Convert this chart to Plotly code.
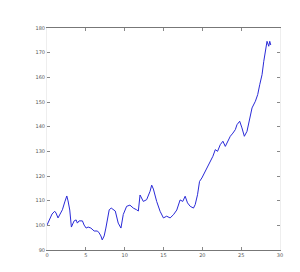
import plotly.graph_objects as go

t = [0.0, 0.26, 0.48, 0.65, 0.99, 1.16, 1.42, 1.68, 1.98, 2.29, 2.55, 2.71, 2.93, 3.14,
     3.49, 3.75, 3.91, 4.13, 4.56, 4.78, 5.04, 5.30, 5.65, 6.07, 6.50, 6.72, 6.94, 7.11,
     7.36, 7.58, 7.79, 8.01, 8.27, 8.53, 8.79, 9.17, 9.52, 9.82, 10.25, 10.68, 11.11,
     11.54, 11.76, 11.98, 12.40, 12.83, 13.27, 13.48, 13.70, 14.12, 14.56, 14.99, 15.41,
     15.85, 16.28, 16.71, 17.14, 17.48, 17.79, 18.09, 18.44, 18.86, 19.08, 19.38, 19.64,
     19.94, 20.37, 20.80, 21.10, 21.36, 21.67, 21.96, 22.31, 22.65, 22.96, 23.26, 23.60,
     23.94, 24.25, 24.46, 24.81, 25.10, 25.41, 25.75, 26.10, 26.40, 26.83, 27.13, 27.39,
     27.69, 27.91, 28.13, 28.33, 28.55, 28.68, 28.81]
price = [100.1, 102.2, 103.8, 104.6, 105.7, 105.0, 103.0, 104.4, 106.3, 109.5, 111.9, 109.9,
         106.2, 99.3, 101.8, 102.2, 100.9, 101.8, 101.8, 100.1, 98.9, 99.3, 98.9, 97.7, 97.7,
         96.9, 95.7, 94.1, 95.7, 98.9, 103.0, 106.3, 107.0, 106.2, 105.8, 100.9, 98.9, 104.4,
         107.7, 108.2, 107.0, 106.3, 105.8, 112.3, 109.7, 110.4, 113.8, 116.3, 114.7, 109.7,
         105.7, 103.0, 103.7, 103.0, 104.3, 106.2, 110.3, 109.7, 111.8, 109.1, 107.7, 107.0,
         108.4, 112.4, 117.8, 119.2, 121.9, 124.6, 126.0, 128.0, 130.7, 130.0, 132.7, 134.1,
         132.0, 134.1, 136.1, 137.4, 138.8, 140.8, 142.2, 139.5, 136.1, 138.1, 143.5, 147.6,
         150.3, 153.0, 157.0, 161.1, 166.5, 171.9, 174.6, 172.6, 174.6, 173.1]

x_ticks = [0, 5, 10, 15, 20, 25, 30]
y_ticks = [90, 100, 110, 120, 130, 140, 150, 160, 170, 180]

fig = go.Figure(go.Scatter(x=t, y=price, mode="lines",
                           line=dict(color="#2a2ad8", width=1)))

axis_font = dict(family="DejaVu Sans", size=5, color="#555555")
fig.update_layout(
    width=300, height=272,
    margin=dict(l=39, r=28, t=20, b=30),
    paper_bgcolor="white", plot_bgcolor="white",
    showlegend=False,
    xaxis=dict(range=[0, 30], tickvals=x_ticks, ticks="inside", ticklen=3,
               tickcolor="#888888", showgrid=False, zeroline=False,
               showline=True, linecolor="#777777", linewidth=1, mirror="ticks",
               tickfont=axis_font),
    yaxis=dict(range=[90, 180], tickvals=y_ticks, ticks="inside", ticklen=3,
               tickcolor="#888888", showgrid=False, zeroline=False,
               showline=True, linecolor="#eeeeee", linewidth=1, mirror="ticks",
               tickfont=axis_font),
)
fig.write_html("out.html")
